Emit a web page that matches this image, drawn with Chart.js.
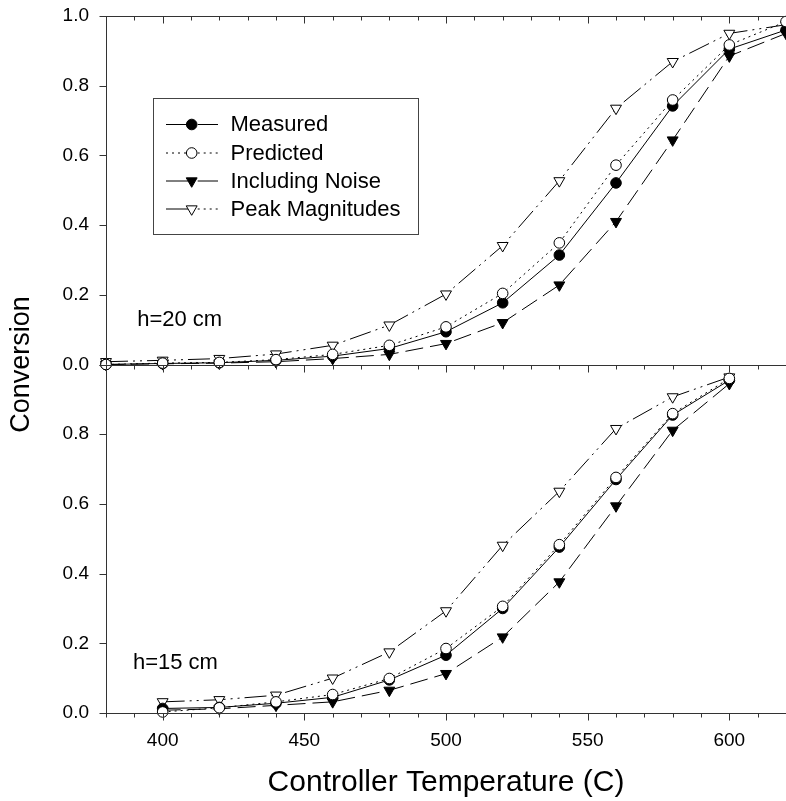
<!DOCTYPE html>
<html>
<head>
<meta charset="utf-8">
<script src="https://cdn.jsdelivr.net/npm/chart.js@4.4.1/dist/chart.umd.min.js"></script>
<style>
  html, body { margin: 0; padding: 0; background: #fff; overflow: hidden; }
  canvas { display: block; }
</style>
</head>
<body>
<canvas id="chart" width="786" height="801"></canvas>
<script>
// h = 20 cm panel (top)
const temps20 = [380, 400, 420, 440, 460, 480, 500, 520, 540, 560, 580, 600, 620];
const measured20 = [0.000, 0.003, 0.005, 0.012, 0.024, 0.046, 0.094, 0.177, 0.314, 0.521, 0.742, 0.905, 0.960];
const predicted20 = [0.000, 0.004, 0.006, 0.014, 0.029, 0.055, 0.108, 0.204, 0.349, 0.572, 0.759, 0.917, 0.984];
const noise20 = [0.000, 0.002, 0.004, 0.008, 0.017, 0.029, 0.060, 0.120, 0.228, 0.410, 0.644, 0.885, 0.950];
const peak20 = [0.008, 0.012, 0.017, 0.030, 0.055, 0.113, 0.202, 0.341, 0.527, 0.735, 0.869, 0.950, 0.975];

// h = 15 cm panel (bottom)
const temps15 = [400, 420, 440, 460, 480, 500, 520, 540, 560, 580, 600];
const measured15 = [0.013, 0.016, 0.028, 0.045, 0.095, 0.166, 0.300, 0.476, 0.670, 0.855, 0.955];
const predicted15 = [0.003, 0.015, 0.032, 0.053, 0.099, 0.185, 0.306, 0.483, 0.676, 0.859, 0.960];
const noise15 = [0.008, 0.012, 0.022, 0.032, 0.065, 0.113, 0.218, 0.376, 0.594, 0.811, 0.945];
const peak15 = [0.032, 0.038, 0.051, 0.100, 0.175, 0.293, 0.481, 0.636, 0.816, 0.907, 0.964];

const seriesNames = ["Measured", "Predicted", "Including Noise", "Peak Magnitudes"];
const xTickLabels = [400, 450, 500, 550, 600];
const yTickLabels = [0.0, 0.2, 0.4, 0.6, 0.8, 1.0];

const FONT = "'Liberation Sans', Arial, sans-serif";

function pts(xs, ys) {
    return xs.map(function (x, i) { return { x: x, y: ys[i] }; });
}

// one style per series
const styles = [
    { dash: [], point: "circle", fill: "#000", radius: 5.3, order: 2 },
    { dash: [2, 4], point: "circle", fill: "#fff", radius: 5.3, order: 1 },
    { dash: [18, 7], point: "triangle", fill: "#000", radius: 6.3, order: 3 },
    { dash: [22, 5, 2, 5, 2, 5], point: "triangle", fill: "#fff", radius: 6.3, order: 4 },
];

function makeSet(i, xs, ys, axis) {
    const s = styles[i];
    return {
        label: seriesNames[i],
        data: pts(xs, ys),
        yAxisID: axis,
        borderColor: "#000",
        borderWidth: 1,
        borderDash: s.dash,
        pointStyle: s.point,
        pointRotation: s.point === "triangle" ? 180 : 0,
        pointRadius: s.radius,
        pointBackgroundColor: s.fill,
        pointBorderColor: "#000",
        pointBorderWidth: 1,
        tension: 0,
        clip: false,
        order: s.order,
    };
}

const datasets = [
    makeSet(0, temps20, measured20, "yTop"),
    makeSet(1, temps20, predicted20, "yTop"),
    makeSet(2, temps20, noise20, "yTop"),
    makeSet(3, temps20, peak20, "yTop"),
    makeSet(0, temps15, measured15, "yBot"),
    makeSet(1, temps15, predicted15, "yBot"),
    makeSet(2, temps15, noise15, "yBot"),
    makeSet(3, temps15, peak15, "yBot"),
];

// legend line pieces: [left half dash, right half dash]
const legendDash = [[[], []], [[2, 4], [2, 4]], [[], []], [[], [2, 4]]];

// frame, tick marks, legend box and panel labels
const decor = {
    id: "decor",
    afterDraw: function (chart) {
        const ctx = chart.ctx;
        const xs = chart.scales.x;
        const area = chart.chartArea;
        const panels = [chart.scales.yTop, chart.scales.yBot];
        ctx.save();
        ctx.strokeStyle = "#333";
        ctx.lineWidth = 1;
        ctx.setLineDash([]);

        // horizontal frame lines with downward ticks
        const lines = [panels[0].getPixelForValue(1), panels[0].getPixelForValue(0), panels[1].getPixelForValue(0)];
        lines.forEach(function (yy) {
            const y = Math.round(yy) + 0.5;
            ctx.beginPath();
            ctx.moveTo(area.left, y);
            ctx.lineTo(area.right, y);
            for (let v = 380; v <= 620; v += 10) {
                const x = Math.round(xs.getPixelForValue(v)) + 0.5;
                ctx.moveTo(x, y);
                ctx.lineTo(x, y + (v % 50 === 0 ? 7 : 4));
            }
            ctx.stroke();
        });

        // left axis with outward ticks
        const lx = Math.round(area.left) + 0.5;
        ctx.beginPath();
        ctx.moveTo(lx, area.top);
        ctx.lineTo(lx, area.bottom);
        panels.forEach(function (sc) {
            yTickLabels.forEach(function (v) {
                const y = Math.round(sc.getPixelForValue(v)) + 0.5;
                ctx.moveTo(lx, y);
                ctx.lineTo(lx - 7, y);
            });
        });
        ctx.stroke();

        // y title spanning both panels
        ctx.fillStyle = "#000";
        ctx.font = "27px " + FONT;
        ctx.textAlign = "center";
        ctx.textBaseline = "middle";
        ctx.save();
        ctx.translate(22, (area.top + area.bottom) / 2);
        ctx.rotate(-Math.PI / 2);
        ctx.fillText("Conversion", 0, 0);
        ctx.restore();

        // panel labels
        ctx.font = "22px " + FONT;
        ctx.textAlign = "left";
        ctx.fillText("h=20 cm", xs.getPixelForValue(391), panels[0].getPixelForValue(0.127));
        ctx.fillText("h=15 cm", xs.getPixelForValue(389.5), panels[1].getPixelForValue(0.143));

        // legend
        const bx = 153, by = 98, bw = 265, bh = 136;
        ctx.strokeStyle = "#444";
        ctx.strokeRect(bx + 0.5, by + 0.5, bw, bh);
        const rowY = [124, 152.5, 180.5, 208.5];
        const x0 = 166, x1 = 218, mx = 191.7;
        styles.forEach(function (s, i) {
            const y = rowY[i] + 0.5;
            ctx.strokeStyle = "#000";
            ctx.lineWidth = 1;
            ctx.setLineDash(legendDash[i][0]);
            ctx.beginPath();
            ctx.moveTo(x0, y);
            ctx.lineTo(mx, y);
            ctx.stroke();
            ctx.setLineDash(legendDash[i][1]);
            ctx.beginPath();
            ctx.moveTo(mx + 6, y);
            ctx.lineTo(x1, y);
            ctx.stroke();
            ctx.setLineDash([]);
            ctx.fillStyle = s.fill;
            ctx.beginPath();
            if (s.point === "circle") {
                ctx.arc(mx, y, s.radius, 0, Math.PI * 2);
            } else {
                const r = s.radius;
                ctx.moveTo(mx, y + r);
                ctx.lineTo(mx - r * 0.866, y - r * 0.5);
                ctx.lineTo(mx + r * 0.866, y - r * 0.5);
                ctx.closePath();
            }
            ctx.fill();
            ctx.stroke();
            ctx.fillStyle = "#000";
            ctx.font = "22px " + FONT;
            ctx.textBaseline = "middle";
            ctx.fillText(seriesNames[i], 230.5, y + 0.5);
        });
        ctx.restore();
    },
};

function fitY(scale) {
    scale.width = 106;
    scale.paddingTop = 0;
    scale.paddingBottom = 0;
}

const yCommon = {
    type: "linear",
    position: "left",
    stack: "conv",
    stackWeight: 1,
    min: 0,
    max: 1,
    grid: { display: false, drawTicks: false },
    border: { display: false },
    afterFit: fitY,
    afterBuildTicks: function (scale) {
        scale.ticks = yTickLabels.map(function (v) { return { value: v }; });
    },
};

new Chart(document.getElementById("chart"), {
    type: "line",
    data: { datasets: datasets },
    options: {
        responsive: false,
        animation: false,
        layout: { autoPadding: false, padding: { top: 16, right: 0, left: 0, bottom: 0 } },
        plugins: { legend: { display: false }, tooltip: { enabled: false } },
        scales: {
            x: {
                type: "linear",
                min: 380,
                max: 620,
                grid: { display: false, drawTicks: false },
                border: { display: false },
                afterBuildTicks: function (scale) {
                    scale.ticks = xTickLabels.map(function (v) { return { value: v }; });
                },
                afterFit: function (scale) {
                    scale.height = 88;
                    scale.paddingLeft = 0;
                    scale.paddingRight = 0;
                },
                ticks: {
                    padding: 16,
                    maxRotation: 0,
                    autoSkip: false,
                    color: "#000",
                    font: { family: FONT, size: 19 },
                },
                title: {
                    display: true,
                    text: "Controller Temperature (C)",
                    color: "#000",
                    font: { family: FONT, size: 30 },
                    padding: { top: 12, bottom: 0 },
                },
            },
            yBot: Object.assign({}, yCommon, {
                ticks: {
                    padding: 17,
                    color: "#000",
                    font: { family: FONT, size: 19 },
                    callback: function (v) { return v >= 1 ? "" : v.toFixed(1); },
                },
            }),
            yTop: Object.assign({}, yCommon, {
                ticks: {
                    padding: 17,
                    color: "#000",
                    font: { family: FONT, size: 19 },
                    callback: function (v) { return v.toFixed(1); },
                },
            }),
        },
    },
    plugins: [decor],
});
</script>
</body>
</html>
